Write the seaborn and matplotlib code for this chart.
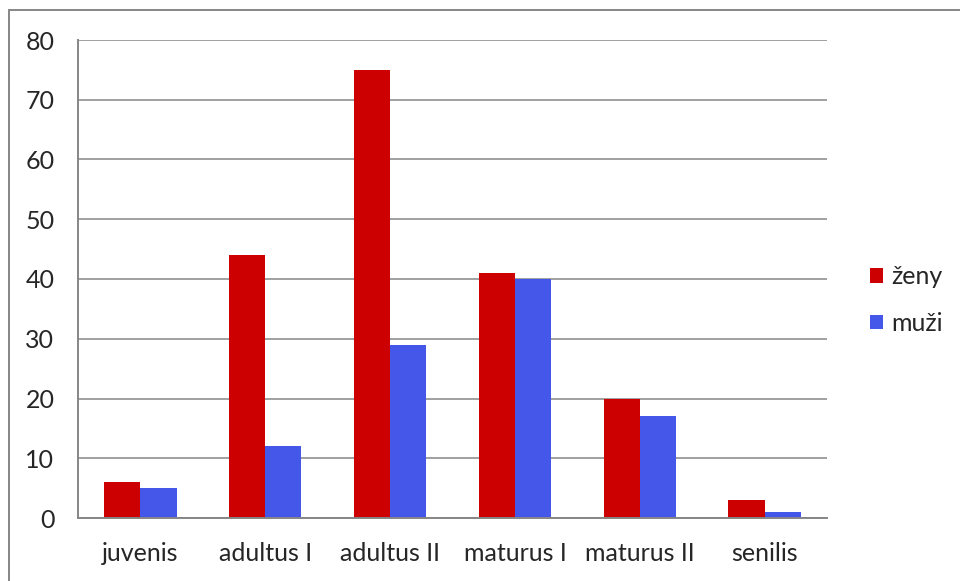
import pandas as pd
import numpy as np
import matplotlib.pyplot as plt
import seaborn as sns
from matplotlib.patches import Rectangle

categories = ['juvenis', 'adultus I', 'adultus II', 'maturus I', 'maturus II', 'senilis']
zeny = [6, 44, 75, 41, 20, 3]
muzi = [5, 12, 29, 40, 17, 1]
series = ['ženy', 'muži']
colors = ['#CC0000', '#4557E8']

df = pd.DataFrame({
    'kategorie': categories * 2,
    'pocet': zeny + muzi,
    'pohlavi': [series[0]] * len(zeny) + [series[1]] * len(muzi),
})

sns.set_style('white')
plt.rcParams['font.family'] = ['Lato', 'DejaVu Sans']

grey = '#868686'
fig = plt.figure(figsize=(9.6, 5.81), dpi=100)
ax = fig.add_axes([78 / 960, 63 / 581, 749 / 960, 478 / 581])

sns.barplot(data=df, x='kategorie', y='pocet', hue='pohlavi', order=categories,
            hue_order=series, palette=colors, width=0.58, gap=0,
            saturation=1, linewidth=0, ax=ax)

ax.set_ylim(0, 80)
ax.set_xlim(-0.5, len(categories) - 0.5)
ax.set_yticks(np.arange(0, 81, 10))
ax.set_xlabel('')
ax.set_ylabel('')
ax.yaxis.grid(True, color=grey, linewidth=1.1)
ax.set_axisbelow(True)

for s in ['top', 'right']:
    ax.spines[s].set_visible(False)
for s in ['left', 'bottom']:
    ax.spines[s].set_color(grey)
    ax.spines[s].set_linewidth(1.4)

ax.tick_params(axis='y', length=6, width=1.1, color=grey, pad=11, labelsize=18)
ax.tick_params(axis='x', length=0, pad=17, labelsize=18)
ax.set_xticks(np.arange(-0.5, len(categories), 1), minor=True)
ax.tick_params(axis='x', which='minor', length=6, width=1.4, color=grey, direction='out')

handles, labels = ax.get_legend_handles_labels()
ax.legend(handles, labels, loc='center left', bbox_to_anchor=(847 / 960, 1 - 300 / 581),
          bbox_transform=fig.transFigure, frameon=False, fontsize=18,
          handlelength=0.52, handleheight=0.52, handletextpad=0.35, labelspacing=0.95)

fig.patches.append(Rectangle((9 / 960, -0.1), 1.2, 1 - 10 / 581 + 0.1,
                             transform=fig.transFigure, fill=False,
                             edgecolor=grey, linewidth=1.4))

fig.savefig('out.png', dpi=100)
